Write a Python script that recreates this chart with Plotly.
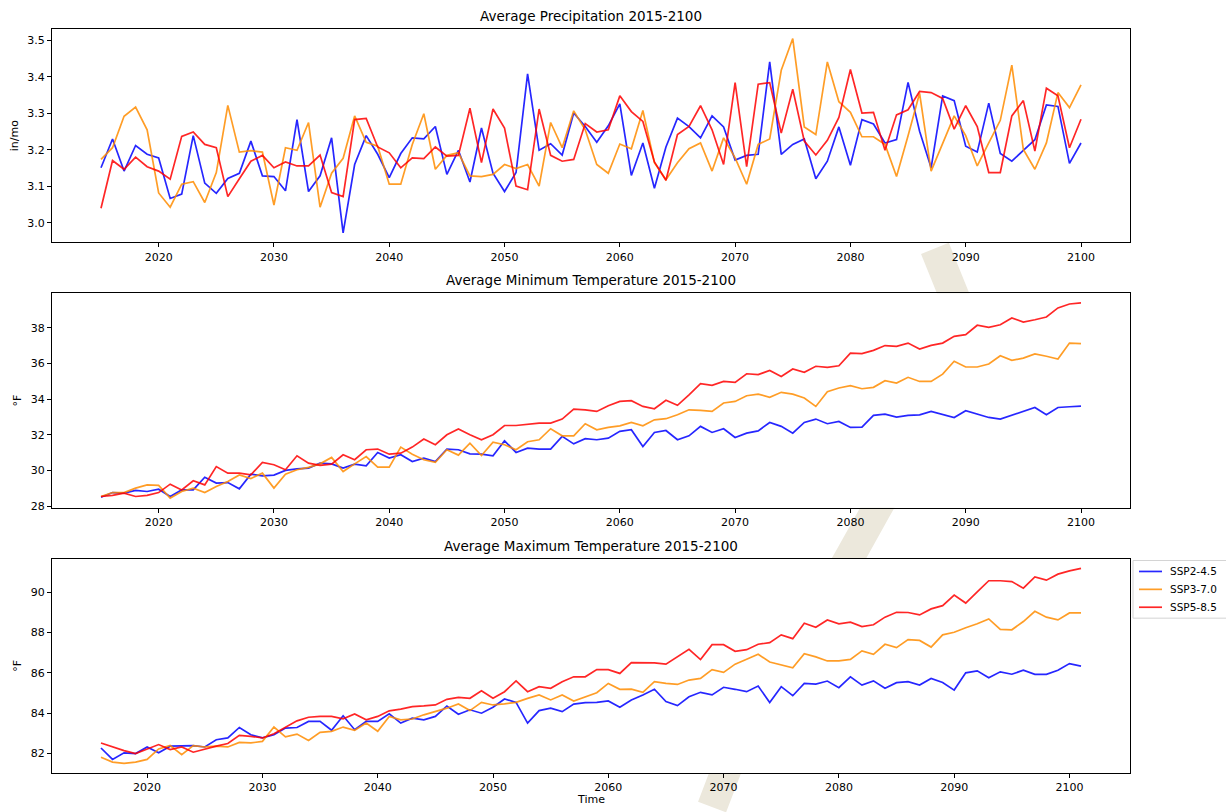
import plotly.graph_objects as go

# ---- data ----
years = list(range(2015, 2101))          # precipitation + min temp
years_tmax = list(range(2016, 2102))     # max temp series is stamped one year later

scenarios = ["SSP2-4.5", "SSP3-7.0", "SSP5-8.5"]

precip_ssp245 = [
    3.151, 3.230, 3.142, 3.212, 3.188, 3.178, 3.067, 3.079, 3.239, 3.109, 3.081, 3.122,
    3.136, 3.224, 3.129, 3.127, 3.088, 3.283, 3.086, 3.129, 3.233, 2.973, 3.160, 3.239,
    3.188, 3.124, 3.190, 3.233, 3.230, 3.264, 3.133, 3.199, 3.112, 3.260, 3.136, 3.086,
    3.138, 3.408, 3.199, 3.217, 3.186, 3.301, 3.264, 3.221, 3.266, 3.326, 3.130,
    3.219, 3.095, 3.208, 3.287, 3.264, 3.233, 3.293, 3.263, 3.172, 3.185, 3.188, 3.441,
    3.188, 3.215, 3.230, 3.121, 3.169, 3.263, 3.158, 3.283, 3.271, 3.219, 3.228,
    3.385, 3.251, 3.151, 3.348, 3.335, 3.210, 3.194, 3.328, 3.190, 3.169, 3.199, 3.228,
    3.323, 3.319, 3.163, 3.219,
]
precip_ssp370 = [
    3.174, 3.206, 3.292, 3.317, 3.255, 3.082, 3.043, 3.106, 3.113, 3.056, 3.138, 3.322,
    3.194, 3.198, 3.194, 3.049, 3.206, 3.199, 3.275, 3.043, 3.136, 3.177, 3.293, 3.221,
    3.210, 3.106, 3.106, 3.215, 3.299, 3.147, 3.185, 3.192, 3.129, 3.127, 3.133, 3.160,
    3.149, 3.160, 3.101, 3.275, 3.206, 3.307, 3.255, 3.160, 3.136, 3.216, 3.203,
    3.308, 3.165, 3.118, 3.165, 3.203, 3.219, 3.142, 3.233, 3.178, 3.106, 3.215, 3.230,
    3.418, 3.505, 3.263, 3.242, 3.441, 3.332, 3.303, 3.236, 3.236, 3.215, 3.127,
    3.239, 3.355, 3.142, 3.219, 3.293, 3.239, 3.156, 3.219, 3.281, 3.432, 3.201, 3.147,
    3.219, 3.357, 3.316, 3.378,
]
precip_ssp585 = [
    3.040, 3.171, 3.147, 3.180, 3.154, 3.142, 3.120, 3.237, 3.249, 3.215, 3.206, 3.072,
    3.121, 3.169, 3.185, 3.151, 3.167, 3.156, 3.156, 3.186, 3.083, 3.072, 3.283, 3.286,
    3.208, 3.192, 3.151, 3.178, 3.176, 3.208, 3.183, 3.185, 3.314, 3.165, 3.312, 3.260,
    3.101, 3.091, 3.312, 3.185, 3.169, 3.174, 3.272, 3.249, 3.255, 3.348, 3.305,
    3.278, 3.167, 3.117, 3.242, 3.264, 3.321, 3.255, 3.160, 3.384, 3.154, 3.380, 3.384,
    3.246, 3.366, 3.224, 3.186, 3.226, 3.289, 3.420, 3.301, 3.303, 3.199, 3.296,
    3.310, 3.360, 3.357, 3.341, 3.257, 3.321, 3.264, 3.138, 3.138, 3.293, 3.335, 3.197,
    3.369, 3.348, 3.206, 3.284,
]

tmin_ssp245 = [
    28.51, 28.77, 28.74, 28.89, 28.83, 28.96, 28.55, 28.92, 28.92, 29.63, 29.30, 29.33,
    28.98, 29.80, 29.71, 29.75, 30.01, 30.10, 30.14, 30.42, 30.38, 30.14, 30.36, 30.27,
    31.02, 30.70, 30.89, 30.51, 30.70, 30.51, 31.21, 31.17, 30.94, 30.92, 30.83, 31.67,
    31.02, 31.26, 31.21, 31.21, 31.92, 31.50, 31.79, 31.73, 31.82, 32.20, 32.29,
    31.35, 32.14, 32.25, 31.73, 31.95, 32.48, 32.14, 32.35, 31.86, 32.10, 32.23, 32.70,
    32.48, 32.10, 32.70, 32.89, 32.63, 32.76, 32.42, 32.44, 33.10, 33.17, 33.00,
    33.10, 33.13, 33.32, 33.17, 32.98, 33.36, 33.19, 32.98, 32.89, 33.10, 33.32, 33.54,
    33.13, 33.54, 33.58, 33.62,
]
tmin_ssp370 = [
    28.55, 28.77, 28.77, 29.02, 29.20, 29.17, 28.46, 28.83, 29.02, 28.77, 29.11, 29.39,
    29.76, 29.56, 29.86, 29.02, 29.80, 30.05, 30.18, 30.38, 30.74, 29.95, 30.38, 30.79,
    30.20, 30.20, 31.32, 30.92, 30.61, 30.46, 31.17, 30.87, 31.54, 30.85, 31.60, 31.45,
    31.17, 31.62, 31.73, 32.35, 31.95, 31.95, 32.63, 32.29, 32.42, 32.51, 32.70,
    32.51, 32.85, 32.91, 33.13, 33.41, 33.38, 33.32, 33.79, 33.88, 34.20, 34.29, 34.11,
    34.39, 34.29, 34.07, 33.60, 34.42, 34.63, 34.76, 34.59, 34.67, 35.04, 34.91,
    35.23, 35.00, 35.00, 35.41, 36.13, 35.81, 35.81, 35.98, 36.44, 36.18, 36.31, 36.54,
    36.41, 36.26, 37.15, 37.12,
]
tmin_ssp585 = [
    28.55, 28.61, 28.74, 28.55, 28.61, 28.77, 29.24, 28.92, 29.43, 29.20, 30.23, 29.86,
    29.86, 29.76, 30.46, 30.33, 30.05, 30.83, 30.42, 30.29, 30.36, 30.89, 30.61, 31.17,
    31.21, 30.92, 30.98, 31.32, 31.77, 31.45, 32.01, 32.33, 32.01, 31.73, 32.01, 32.53,
    32.53, 32.61, 32.66, 32.66, 32.89, 33.45, 33.41, 33.32, 33.64, 33.88, 33.92,
    33.60, 33.47, 33.94, 33.66, 34.25, 34.87, 34.78, 35.00, 34.95, 35.43, 35.38, 35.62,
    35.28, 35.70, 35.51, 35.85, 35.79, 35.88, 36.59, 36.56, 36.74, 37.01, 36.97,
    37.15, 36.82, 37.02, 37.15, 37.53, 37.62, 38.15, 38.03, 38.18, 38.56, 38.33, 38.46,
    38.61, 39.12, 39.34, 39.40,
]

tmax_ssp245 = [
    82.26, 81.69, 82.02, 81.98, 82.31, 82.02, 82.35, 82.38, 82.38, 82.31, 82.67, 82.76,
    83.28, 82.92, 82.76, 82.92, 83.25, 83.28, 83.58, 83.58, 83.14, 83.86, 83.17,
    83.58, 83.58, 83.96, 83.50, 83.74, 83.66, 83.83, 84.35, 83.94, 84.16, 83.99, 84.29,
    84.70, 84.53, 83.50, 84.12, 84.24, 84.07, 84.44, 84.52, 84.53, 84.60, 84.29,
    84.65, 84.90, 85.18, 84.57, 84.37, 84.81, 85.03, 84.90, 85.28, 85.18, 85.06, 85.34,
    84.52, 85.31, 84.86, 85.47, 85.44, 85.59, 85.26, 85.80, 85.39, 85.60, 85.23,
    85.51, 85.56, 85.39, 85.72, 85.52, 85.14, 86.00, 86.10, 85.75, 86.05, 85.93, 86.13,
    85.92, 85.92, 86.13, 86.46, 86.33,
]
tmax_ssp370 = [
    81.80, 81.56, 81.49, 81.56, 81.69, 82.21, 82.38, 81.93, 82.38, 82.31, 82.35, 82.31,
    82.54, 82.51, 82.59, 83.30, 82.81, 82.95, 82.63, 83.04, 83.09, 83.30, 83.14,
    83.50, 83.09, 83.83, 83.66, 83.70, 83.91, 84.07, 84.24, 84.45, 84.12, 84.53, 84.40,
    84.45, 84.53, 84.73, 84.90, 84.65, 84.90, 84.60, 84.81, 85.01, 85.47, 85.18,
    85.19, 85.03, 85.56, 85.47, 85.42, 85.64, 85.72, 86.16, 86.02, 86.43, 86.67, 86.92,
    86.54, 86.38, 86.25, 86.95, 86.79, 86.59, 86.59, 86.67, 87.09, 86.92, 87.42,
    87.25, 87.65, 87.61, 87.28, 87.89, 88.02, 88.24, 88.44, 88.68, 88.16, 88.14, 88.55,
    89.06, 88.77, 88.63, 88.98, 88.98,
]
tmax_ssp585 = [
    82.51, 82.31, 82.13, 81.98, 82.21, 82.43, 82.18, 82.31, 82.05, 82.21, 82.35, 82.48,
    82.89, 82.84, 82.76, 82.97, 83.30, 83.61, 83.79, 83.83, 83.83, 83.71, 83.95,
    83.66, 83.83, 84.11, 84.19, 84.32, 84.35, 84.40, 84.68, 84.78, 84.73, 85.11, 84.73,
    85.06, 85.60, 85.06, 85.31, 85.23, 85.56, 85.80, 85.80, 86.16, 86.16, 85.97,
    86.51, 86.49, 86.49, 86.43, 86.82, 87.17, 86.66, 87.40, 87.40, 87.07, 87.15, 87.42,
    87.50, 87.89, 87.70, 88.47, 88.27, 88.63, 88.44, 88.52, 88.30, 88.39, 88.77,
    89.01, 89.00, 88.88, 89.18, 89.34, 89.87, 89.47, 90.03, 90.58, 90.58, 90.54, 90.21,
    90.77, 90.61, 90.91, 91.07, 91.20,
]

FONT = "DejaVu Sans"
COLORS = ["rgba(0,0,255,0.85)", "rgba(255,140,0,0.85)", "rgba(255,0,0,0.85)"]

panels = [
    ("Average Precipitation 2015-2100", "in/mo", years,
     [precip_ssp245, precip_ssp370, precip_ssp585], 0.1, ".1f"),
    ("Average Minimum Temperature 2015-2100", "°F", years,
     [tmin_ssp245, tmin_ssp370, tmin_ssp585], 2, "d"),
    ("Average Maximum Temperature 2015-2100", "°F", years_tmax,
     [tmax_ssp245, tmax_ssp370, tmax_ssp585], 2, "d"),
]

# subplot boxes in pixels (top, bottom), figure is 1226 x 812
W, H = 1226, 812
x_left, x_right = 52, 1130
boxes = [(29, 244), (295, 511), (562, 778)]


def px(x, y):
    # pixel position -> paper coords
    return x / W, 1 - y / H


def padded(lo, hi, frac=0.05):
    # same 5% auto-margin matplotlib uses
    span = hi - lo
    return [lo - frac * span, hi + frac * span]


fig = go.Figure()
shapes = []

# faint beige page watermark: only shows in the gaps, the axes themselves are opaque white
wm = "#ece8dc"


def stroke(points, width=30):
    path = "M " + " L ".join(f"{px(x, y)[0]:.4f},{px(x, y)[1]:.4f}" for x, y in points)
    return dict(type="path", xref="paper", yref="paper", path=path, layer="below",
                line=dict(color=wm, width=width))


shapes.append(stroke([(935, 250), (955, 300), (975, 350), (995, 412)]))
shapes.append(stroke([(900, 470), (875, 515), (850, 560), (810, 630), (770, 700), (728, 770), (712, 812)]))

for i, (title, ylabel, x, series, dtick, fmt) in enumerate(panels):
    n = "" if i == 0 else str(i + 1)
    for name, ys, color in zip(scenarios, series, COLORS):
        fig.add_trace(
            go.Scatter(
                x=x,
                y=ys,
                mode="lines",
                name=name,
                line=dict(color=color, width=1.7),
                xaxis="x" + n,
                yaxis="y" + n,
                showlegend=False,
            )
        )

    top, bottom = boxes[i]
    # white axes face covering the watermark
    a = px(x_left, top)
    b = px(x_right, bottom)
    shapes.append(dict(type="rect", xref="paper", yref="paper", layer="below",
                       x0=a[0], y0=b[1], x1=b[0], y1=a[1], line=dict(width=0), fillcolor="white"))

    ymin = min(min(s) for s in series)
    ymax = max(max(s) for s in series)
    axis_common = dict(
        showline=True,
        mirror=True,
        linecolor="black",
        linewidth=1,
        ticks="outside",
        ticklen=4,
        tickcolor="black",
        showgrid=False,
        zeroline=False,
        tickfont=dict(family=FONT, size=11, color="black"),
    )
    fig.layout["xaxis" + n] = dict(
        domain=[x_left / W, x_right / W],
        anchor="y" + n,
        range=padded(x[0], x[-1]),
        tick0=2020,
        dtick=10,
        **axis_common,
    )
    fig.layout["yaxis" + n] = dict(
        domain=[1 - bottom / H, 1 - top / H],
        anchor="x" + n,
        range=padded(ymin, ymax),
        dtick=dtick,
        tickformat=fmt,
        title=dict(text=ylabel, font=dict(family=FONT, size=11, color="black"), standoff=6),
        **axis_common,
    )
    fig.add_annotation(
        text=title,
        xref="paper",
        yref="paper",
        x=(x_left + x_right) / 2 / W,
        y=1 - top / H,
        yanchor="bottom",
        yshift=3,
        showarrow=False,
        font=dict(family=FONT, size=13.5, color="black"),
    )

# x label only under the last panel
fig.add_annotation(
    text="Time", xref="paper", yref="paper",
    x=(x_left + x_right) / 2 / W, y=1 - 804 / H, yanchor="middle",
    showarrow=False, font=dict(family=FONT, size=11, color="black"),
)

# legend drawn by hand so it sits where matplotlib put it (outside, right of panel 3)
lx0, ly0 = px(1133, 564)
lx1, ly1 = px(1240, 622)
shapes.append(dict(type="rect", xref="paper", yref="paper", x0=lx0, y0=ly1, x1=lx1, y1=ly0,
                   line=dict(color="#d4d4d4", width=1), fillcolor="white"))
for k, (name, color) in enumerate(zip(scenarios, COLORS)):
    yy = 575 + k * 18
    a = px(1139, yy)
    b = px(1162, yy)
    shapes.append(dict(type="line", xref="paper", yref="paper", x0=a[0], y0=a[1], x1=b[0], y1=b[1],
                       line=dict(color=color, width=1.7)))
    fig.add_annotation(
        text=name, xref="paper", yref="paper", x=1168 / W, y=1 - yy / H,
        xanchor="left", yanchor="middle", showarrow=False,
        font=dict(family=FONT, size=10.5, color="black"),
    )

fig.update_layout(
    width=W,
    height=H,
    margin=dict(l=0, r=0, t=0, b=0),
    paper_bgcolor="white",
    plot_bgcolor="white",
    font=dict(family=FONT, size=11, color="black"),
    showlegend=False,
    shapes=shapes,
)

# the page's default 8px body margin would push the figure off its pixel grid
fig.write_html(
    "out.html",
    config={"displayModeBar": False},
    post_script="document.body.style.margin = '0';",
)
